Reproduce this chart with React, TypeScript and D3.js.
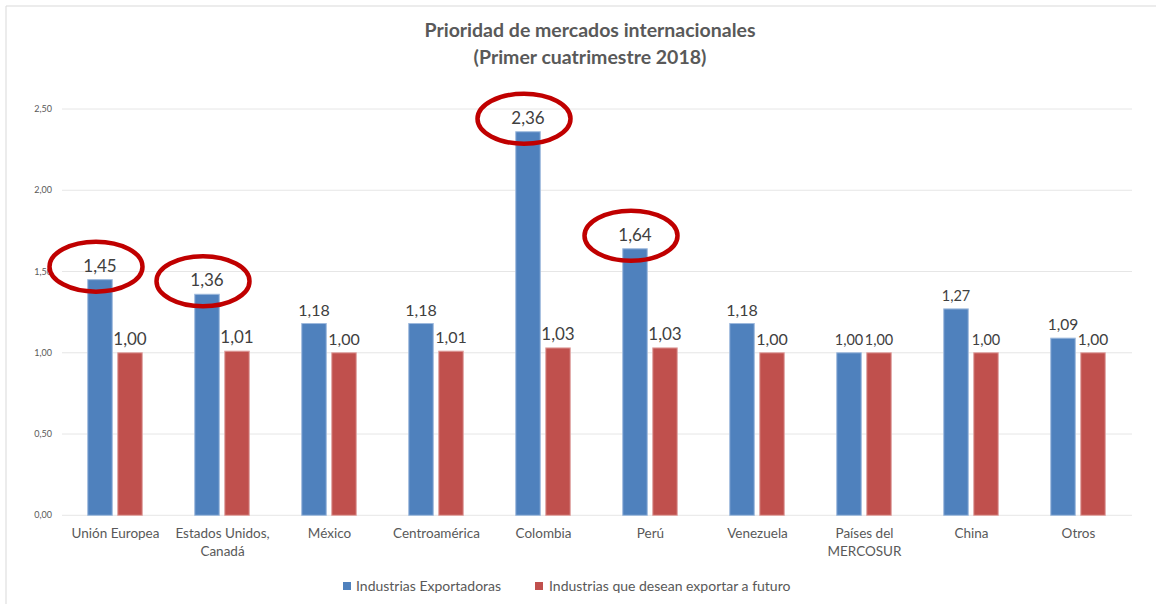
import React from "react";
import * as d3 from "d3";

const categories = [
  ["Unión Europea"],
  ["Estados Unidos,", "Canadá"],
  ["México"],
  ["Centroamérica"],
  ["Colombia"],
  ["Perú"],
  ["Venezuela"],
  ["Países del", "MERCOSUR"],
  ["China"],
  ["Otros"],
];
const exportadoras = [1.45, 1.36, 1.18, 1.18, 2.36, 1.64, 1.18, 1.0, 1.27, 1.09];
const futuro = [1.0, 1.01, 1.0, 1.01, 1.03, 1.03, 1.0, 1.0, 1.0, 1.0];
const highlighted = [0, 1, 4, 5];
const yTicks = [0, 0.5, 1.0, 1.5, 2.0, 2.5];
const seriesNames = ["Industrias Exportadoras", "Industrias que desean exportar a futuro"];
const labelSizes = [17, 17, 16, 16, 17, 17, 16, 14.5, 14.5, 15.5];

const W = 1156;
const H = 604;
const FONT = "Lato, 'Open Sans', sans-serif";
const fmt = (v: number) => v.toFixed(2).replace(".", ",");

export default function App() {
  const x = d3.scaleBand<number>().domain(d3.range(categories.length)).range([62, 1132]);
  const y = d3.scaleLinear().domain([0, 2.5]).range([515.3, 109]);
  const bw = 24.5;
  const blueX = (i: number) => (x(i) as number) + x.bandwidth() / 2 - 15.5 - bw / 2;
  const redX = (i: number) => (x(i) as number) + x.bandwidth() / 2 + 14.5 - bw / 2;
  const colors = ["#4F81BD", "#C0504D"];
  const strokes = ["#9DB9DD", "#E0A3A1"];

  return (
    <svg width={W} height={H} style={{ position: "absolute", left: 0, top: 0, background: "#fff" }}>
      <rect x={0} y={0} width={W} height={H} fill="#fff" />
      <line x1={6} y1={6} x2={W} y2={6} stroke="#D9D9D9" />
      <line x1={6} y1={6} x2={6} y2={H} stroke="#D9D9D9" />
      <text x={590} y={37} textAnchor="middle" fontFamily={FONT} fontWeight="bold" fontSize={19.5} fill="#595959">
        Prioridad de mercados internacionales
      </text>
      <text x={590} y={64} textAnchor="middle" fontFamily={FONT} fontWeight="bold" fontSize={19.5} fill="#595959">
        (Primer cuatrimestre 2018)
      </text>
      {yTicks.map((t) => (
        <g key={t}>
          <line x1={62} x2={1132} y1={y(t)} y2={y(t)} stroke="#E6E6E6" />
          <text x={52} y={y(t) + 3} textAnchor="end" fontFamily={FONT} fontSize={9} fill="#595959">
            {fmt(t)}
          </text>
        </g>
      ))}
      {exportadoras.map((v, i) => (
        <rect key={"b" + i} x={blueX(i)} y={y(v)} width={bw} height={y(0) - y(v)} fill={colors[0]} stroke={strokes[0]} strokeWidth={1} />
      ))}
      {futuro.map((v, i) => (
        <rect key={"r" + i} x={redX(i)} y={y(v)} width={bw} height={y(0) - y(v)} fill={colors[1]} stroke={strokes[1]} strokeWidth={1} />
      ))}
      {exportadoras.map((v, i) => (
        <text key={"lb" + i} x={blueX(i) + bw / 2} y={y(v) - 8} textAnchor="middle" fontFamily={FONT} fontSize={labelSizes[i]} fill="#404040">
          {fmt(v)}
        </text>
      ))}
      {futuro.map((v, i) => (
        <text key={"lr" + i} x={redX(i) + bw / 2} y={y(v) - 8} textAnchor="middle" fontFamily={FONT} fontSize={labelSizes[i]} fill="#404040">
          {fmt(v)}
        </text>
      ))}
      {highlighted.map((i) => (
        <ellipse key={"e" + i} cx={blueX(i) + bw / 2 - 4} cy={y(exportadoras[i]) - 13} rx={46.5} ry={25} fill="none" stroke="#C00000" strokeWidth={4.5} />
      ))}
      {categories.map((lines, i) => (
        <text key={"c" + i} textAnchor="middle" fontFamily={FONT} fontSize={13.5} fill="#595959">
          {lines.map((l, j) => (
            <tspan key={j} x={(x(i) as number) + x.bandwidth() / 2} y={538 + j * 18}>
              {l}
            </tspan>
          ))}
        </text>
      ))}
      <rect x={343} y={582} width={8} height={8} fill={colors[0]} />
      <text x={356} y={591} fontFamily={FONT} fontSize={14} fill="#595959">{seriesNames[0]}</text>
      <rect x={535} y={582} width={8} height={8} fill={colors[1]} />
      <text x={549} y={591} fontFamily={FONT} fontSize={14} fill="#595959">{seriesNames[1]}</text>
    </svg>
  );
}
